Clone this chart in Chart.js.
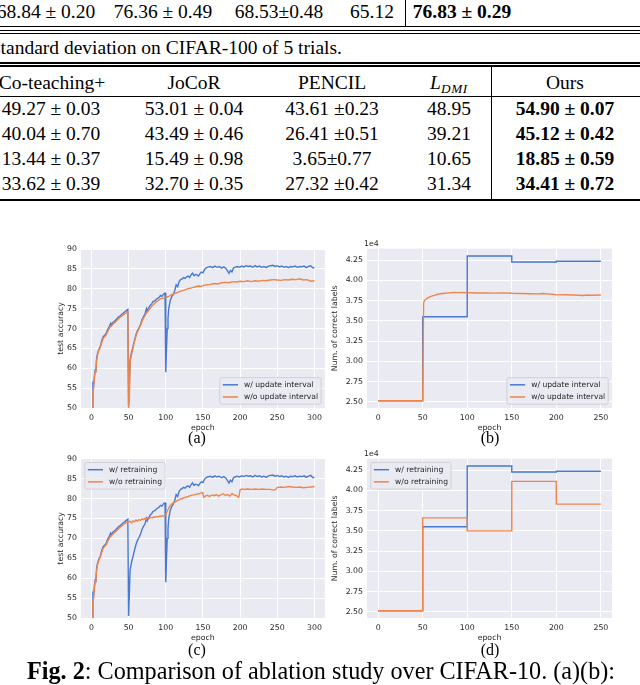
<!DOCTYPE html>
<html>
<head>
<meta charset="utf-8">
<script src="https://cdn.jsdelivr.net/npm/chart.js@4.4.1/dist/chart.umd.min.js"></script>
<style>
body { margin: 0; width: 640px; height: 685px; overflow: hidden; background: #fff; position: relative; font-family: 'Liberation Serif', 'Times New Roman', serif; color: #000; }
.t { position: absolute; font-size: 19.5px; white-space: nowrap; transform: translate(-50%, -50%); line-height: 1; }
.b { font-weight: bold; }
.cap { position: absolute; font-size: 16px; white-space: nowrap; transform: translate(-50%, -50%); line-height: 1; }
.rule { position: absolute; background: #000; }
canvas { position: absolute; }
</style>
</head>
<body>

<!-- end of the CIFAR-10 table -->
<div class="t" style="left:46px;top:12px">68.84 ± 0.20</div>
<div class="t" style="left:163px;top:12px">76.36 ± 0.49</div>
<div class="t" style="left:279px;top:12px">68.53±0.48</div>
<div class="t" style="left:372px;top:12px">65.12</div>
<div class="t b" style="left:462px;top:12px">76.83 ± 0.29</div>
<div class="rule" style="left:405px;top:0;width:1px;height:27px"></div>
<div class="rule" style="left:0;top:26px;width:640px;height:1px"></div>
<div class="rule" style="left:0;top:29.5px;width:640px;height:1.5px"></div>
<div class="rule" style="left:0;top:32.5px;width:640px;height:1.5px"></div>

<div class="t" style="left:-7px;top:48px;transform:translate(0,-50%)">standard deviation on CIFAR-100 of 5 trials.</div>

<!-- CIFAR-100 table -->
<div class="rule" style="left:0;top:62px;width:640px;height:1.5px"></div>
<div class="rule" style="left:0;top:65px;width:640px;height:1.5px"></div>
<div class="rule" style="left:491px;top:66px;width:1px;height:134px"></div>
<div class="t" style="left:52px;top:83px">Co-teaching+</div>
<div class="t" style="left:194px;top:83px">JoCoR</div>
<div class="t" style="left:332px;top:83px">PENCIL</div>
<div class="t" style="left:449px;top:83px"><i>L</i><i style="font-size:0.68em;position:relative;top:0.3em;letter-spacing:0.05em">DMI</i></div>
<div class="t" style="left:565px;top:83px">Ours</div>
<div class="rule" style="left:0;top:96px;width:640px;height:1px"></div>

<div class="t" style="left:51px;top:109px">49.27 ± 0.03</div>
<div class="t" style="left:194px;top:109px">53.01 ± 0.04</div>
<div class="t" style="left:332px;top:109px">43.61 ±0.23</div>
<div class="t" style="left:449px;top:109px">48.95</div>
<div class="t b" style="left:565px;top:109px">54.90 ± 0.07</div>

<div class="t" style="left:51px;top:134px">40.04 ± 0.70</div>
<div class="t" style="left:194px;top:134px">43.49 ± 0.46</div>
<div class="t" style="left:332px;top:134px">26.41 ±0.51</div>
<div class="t" style="left:449px;top:134px">39.21</div>
<div class="t b" style="left:565px;top:134px">45.12 ± 0.42</div>

<div class="t" style="left:51px;top:159px">13.44 ± 0.37</div>
<div class="t" style="left:194px;top:159px">15.49 ± 0.98</div>
<div class="t" style="left:332px;top:159px">3.65±0.77</div>
<div class="t" style="left:449px;top:159px">10.65</div>
<div class="t b" style="left:565px;top:159px">18.85 ± 0.59</div>

<div class="t" style="left:51px;top:184px">33.62 ± 0.39</div>
<div class="t" style="left:194px;top:184px">32.70 ± 0.35</div>
<div class="t" style="left:332px;top:184px">27.32 ±0.42</div>
<div class="t" style="left:449px;top:184px">31.34</div>
<div class="t b" style="left:565px;top:184px">34.41 ± 0.72</div>
<div class="rule" style="left:0;top:199px;width:640px;height:1.5px"></div>

<!-- figure -->
<canvas id="chartA" width="272" height="195" style="left:55px;top:240px"></canvas>
<canvas id="chartB" width="292" height="195" style="left:325px;top:240px"></canvas>
<canvas id="chartC" width="272" height="195" style="left:55px;top:450px"></canvas>
<canvas id="chartD" width="292" height="195" style="left:325px;top:450px"></canvas>

<div class="cap" style="left:197px;top:438px">(a)</div>
<div class="cap" style="left:490px;top:438px">(b)</div>
<div class="cap" style="left:197px;top:650px">(c)</div>
<div class="cap" style="left:490px;top:650px">(d)</div>
<div class="cap" style="left:27px;top:671px;font-size:24.2px;transform:translate(0,-50%)"><b>Fig. 2</b>: Comparison of ablation study over CIFAR-10. (a)(b):</div>

<script>
// test accuracy, with update interval / with retraining (same run in (a) and (c))
const epochsWith = [1,2,3,4,5,6,7,8,10,12,14,16,18,20,22,24,26,27,29,31,33,35,37,39,41,43,45,47,49,50,51,52,54,56,58,60,62,64,66,68,70,72,74,75,77,79,81,83,85,87,89,91,93,95,97,99,100,101,102,103,104,106,108,110,112,114,116,118,120,122,124,126,128,130,132,134,136,138,140,142,144,146,148,150,152,154,156,158,160,163,166,169,172,175,178,181,183,185,187,189,191,193,196,199,202,205,208,211,214,217,220,223,226,229,232,235,238,241,244,247,250,253,256,259,262,265,268,271,274,277,280,283,286,289,292,295,298,300];
const accWith = [50.2,56,55.5,58,59.5,59.3,62.5,63.5,64.8,65.5,67,68,68.3,68.8,69.8,70.5,71.3,70.8,71.6,71.8,72.2,72.6,73,73.2,73.6,73.9,74.2,74.5,74.8,50.5,56,62,64,65.5,67,68.5,69.5,70.2,71,72.2,73,73.6,75,74.4,75.2,75.8,76.2,76.8,76.9,77.3,77.6,77.8,78.3,78.1,78.7,78.9,59,65,70,72.5,75,77,78,78.5,79.5,81,80.5,81.8,82.3,82.5,82.8,82.6,83,83.2,82.8,83.5,83.9,83.3,83.6,83.5,83.2,83.8,84.2,84,84.8,85.2,85.4,85.5,85.6,85.3,85.7,85.4,85.6,85.2,85.5,85.1,84.5,83.9,84.6,84.2,85.2,85.4,85.6,85.4,85.7,85.5,85.8,85.6,85.7,85.4,85.8,85.5,85.7,85.4,85.6,85.3,85.7,85.8,85.9,85.6,85.8,85.5,85.7,85.4,85.6,85.3,85.6,85.5,85.7,85.4,85.6,85.5,85.7,85.3,85.6,85.8,85.2,85.3];

// test accuracy, w/o update interval (a)
const epochsNoUpdate = [1,2,3,4,5,6,7,8,10,12,14,16,18,20,22,24,26,28,30,32,34,36,38,40,42,44,46,48,49,50,51,52,54,56,58,60,62,64,66,68,70,72,74,76,78,80,82,84,86,88,90,92,94,96,98,100,104,108,112,116,120,124,128,132,136,140,144,148,152,156,160,165,170,175,180,185,190,195,200,205,210,215,220,225,230,235,240,245,250,255,260,265,270,275,280,285,290,295,300];
const accNoUpdate = [50,54,55.5,57.5,59.2,59.4,62,63.2,64.5,65.3,66.5,67.6,68,68.4,69.3,70,70.6,70.9,71.3,71.6,72,72.3,72.7,73,73.3,73.6,73.8,74.1,74.2,50,52,61.5,63.5,65.2,66.8,68.2,69.2,70,70.8,71.8,72.6,73.2,73.9,74.3,74.8,75.3,75.8,76.1,76.5,76.8,77.1,77.3,77.5,77.6,77.7,77.8,78.1,78.5,78.8,79.1,79.4,79.6,79.9,80.1,80.3,80.5,80.7,80.6,80.9,81,81.1,81.3,81.2,81.5,81.6,81.5,81.8,81.7,81.9,81.8,82,81.8,82,81.9,82.1,82,82.2,82.3,82.2,82.1,82.3,82.2,82.4,82.3,82.5,82.2,82.3,81.9,82];

// test accuracy, w/o retraining (c)
const epochsNoRetrain = [1,2,3,4,5,6,7,8,10,12,14,16,18,20,22,24,26,28,30,32,34,36,38,40,42,44,46,48,49,50,52,54,56,58,60,62,64,66,68,70,72,74,76,78,80,82,84,86,88,90,92,94,96,98,100,102,104,106,108,110,114,118,122,126,130,134,138,142,146,149,150,151,153,156,159,162,165,168,171,174,177,180,183,186,189,192,195,198,199,200,203,206,210,215,220,225,230,235,240,245,248,250,255,260,265,270,275,280,285,290,295,300];
const accNoRetrain = [50,54,55.5,57.5,59.2,59.4,62,63.2,64.5,65.3,66.5,67.6,68,68.4,69.3,70,70.6,70.9,71.3,71.6,72,72.3,72.7,73,73.3,73.6,73.8,74.1,74.2,74.2,74.3,73.9,74.4,74.2,74.6,74.3,74.7,74.5,74.9,74.7,75,74.8,75.2,75,75.3,75.1,75.4,75.3,75.5,75.4,75.6,75.5,75.7,75.6,75.9,76.8,77.6,78.2,78.6,78.9,79.3,79.7,80,80.3,80.5,80.8,80.9,81.1,81.3,81.5,81.2,80.3,80.6,80.8,80.5,80.9,80.7,81,80.6,80.9,81.2,80.8,81,80.6,81.2,80.9,80.7,80.3,81,82.2,82.4,82.3,82.4,82.3,82.4,82.3,82.4,82.3,82.3,82.1,82.3,82.8,82.9,82.8,83,82.9,82.8,82.9,82.7,82.8,82.9,83];

// number of correct labels, with update interval / with retraining (steps)
const epochsStepWith = [0,50,100,150,200,250];
const labelsWith = [25150,35500,43000,42250,42350,42350];

// number of correct labels, w/o update interval (b)
const epochsLabelsNoUpdate = [0,50,51,52,54,56,58,60,63,66,70,75,80,85,90,95,100,105,110,120,130,140,150,160,170,180,185,190,195,200,210,220,230,235,240,250];
const labelsNoUpdate = [25150,25150,37200,37500,37700,37850,37950,38050,38150,38250,38350,38400,38450,38500,38480,38500,38450,38470,38430,38450,38420,38450,38400,38380,38350,38320,38370,38330,38280,38200,38220,38180,38120,38180,38150,38180];

// number of correct labels, w/o retraining (d, steps)
const epochsStepNoRetrain = [0,50,100,150,200,250];
const labelsNoRetrain = [25150,36600,35000,41100,38300,38300];

const accTicks = [50,55,60,65,70,75,80,85,90];
const labelTicks = [25000,27500,30000,32500,35000,37500,40000,42500];
const epochTicks300 = [0,50,100,150,200,250,300];
const epochTicks250 = [0,50,100,150,200,250];

const BLUE = '#4878D0';
const ORANGE = '#EE854A';
const TEXT = '#262626';
const FS = 7.8;
const FONT = { family: 'DejaVu Sans', size: FS, lineHeight: 1.2 };

// seaborn style plot background
const plotBg = {
    id: 'plotBg',
    beforeDraw(chart) {
        const { ctx, chartArea: a } = chart;
        ctx.save();
        ctx.fillStyle = '#EAEAF2';
        ctx.fillRect(a.left, a.top, a.width, a.height);
        ctx.restore();
    }
};

// matplotlib like framed legend inside the axes
const boxLegend = {
    id: 'boxLegend',
    afterDatasetsDraw(chart, args, opts) {
        const { ctx, chartArea: a } = chart;
        const items = chart.data.datasets;
        const fs = 7.6;
        const pad = 0.4 * fs, handle = 2 * fs, hpad = 0.8 * fs, gap = 0.5 * fs, rowH = 1.1 * fs, inset = 0.5 * fs;
        ctx.save();
        ctx.font = `${fs}px "DejaVu Sans"`;
        const textW = Math.max(...items.map(d => ctx.measureText(d.label).width));
        const w = pad * 2 + handle + hpad + textW;
        const h = pad * 2 + rowH * items.length + gap * (items.length - 1);
        const x = opts.corner.includes('right') ? a.right - inset - w : a.left + inset;
        const y = opts.corner.includes('lower') ? a.bottom - inset - h : a.top + inset;
        ctx.beginPath();
        ctx.roundRect(x, y, w, h, 0.25 * fs);
        ctx.fillStyle = 'rgba(234,234,242,0.8)';
        ctx.fill();
        ctx.strokeStyle = 'rgba(204,204,204,0.8)';
        ctx.lineWidth = 1;
        ctx.stroke();
        items.forEach((d, i) => {
            const cy = y + pad + rowH / 2 + i * (rowH + gap);
            ctx.strokeStyle = d.borderColor;
            ctx.lineWidth = 1.5;
            ctx.beginPath();
            ctx.moveTo(x + pad, cy);
            ctx.lineTo(x + pad + handle, cy);
            ctx.stroke();
            ctx.fillStyle = TEXT;
            ctx.textBaseline = 'middle';
            ctx.fillText(d.label, x + pad + handle + hpad, cy);
        });
        ctx.restore();
    }
};

// the "1e4" offset label above the y axis
const offsetText = {
    id: 'offsetText',
    afterDraw(chart, args, opts) {
        if (!opts.text) return;
        const { ctx, chartArea: a } = chart;
        ctx.save();
        ctx.font = `${FS}px "DejaVu Sans"`;
        ctx.fillStyle = TEXT;
        ctx.textBaseline = 'bottom';
        ctx.fillText(opts.text, a.left - 3, a.top - 1);
        ctx.restore();
    }
};

const makeChart = (id, cfg) => {
    new Chart(document.getElementById(id), {
        type: 'line',
        data: {
            datasets: cfg.series.map(s => ({
                label: s.label,
                data: s.x.map((x, i) => ({ x: x, y: s.y[i] })),
                borderColor: s.color,
                backgroundColor: s.color,
                borderWidth: 1.4,
                pointRadius: 0,
                tension: 0,
                stepped: s.stepped || false,
                order: s.order
            }))
        },
        options: {
            responsive: false,
            animation: false,
            devicePixelRatio: 1,
            layout: { padding: { top: cfg.padTop, right: cfg.padRight, left: 0, bottom: 0 } },
            plugins: {
                legend: { display: false },
                tooltip: { enabled: false },
                boxLegend: { corner: cfg.legendCorner },
                offsetText: { text: cfg.offset }
            },
            scales: {
                x: {
                    type: 'linear',
                    min: cfg.xMin,
                    max: cfg.xMax,
                    afterBuildTicks: s => { s.ticks = cfg.xTicks.map(v => ({ value: v })); },
                    afterFit: s => { s.height = 27; },
                    grid: { color: '#ffffff', lineWidth: 1, drawTicks: false },
                    border: { display: false },
                    ticks: { color: TEXT, font: FONT, padding: 5, maxRotation: 0, autoSkip: false },
                    title: { display: true, text: 'epoch', color: TEXT, font: FONT, padding: { top: 0, bottom: 2 } }
                },
                y: {
                    type: 'linear',
                    min: cfg.yMin,
                    max: cfg.yMax,
                    afterBuildTicks: s => { s.ticks = cfg.yTicks.map(v => ({ value: v })); },
                    afterFit: s => { s.width = cfg.yAxisW; },
                    grid: { color: '#ffffff', lineWidth: 1, drawTicks: false },
                    border: { display: false },
                    ticks: { color: TEXT, font: FONT, padding: 4, autoSkip: false, callback: cfg.yFormat },
                    title: { display: true, text: cfg.yTitle, color: TEXT, font: FONT, padding: { top: cfg.yTitlePad, bottom: 0 } }
                }
            }
        },
        plugins: [plotBg, boxLegend, offsetText]
    });
};

const accAxes = {
    xMin: -14, xMax: 314, xTicks: epochTicks300,
    yMin: 50, yMax: 90, yTicks: accTicks, yFormat: v => v,
    yTitle: 'test accuracy', yAxisW: 26, yTitlePad: 1.5, padTop: 9, padRight: 2
};
const labelAxes = {
    xMin: -12.5, xMax: 262.5, xTicks: epochTicks250,
    yMin: 24250, yMax: 43900, yTicks: labelTicks, yFormat: v => (v / 10000).toFixed(2),
    yTitle: 'Num. of correct labels', yAxisW: 42, yTitlePad: 5, padTop: 8, padRight: 5, offset: '1e4'
};

makeChart('chartA', Object.assign({}, accAxes, {
    legendCorner: 'lower right',
    series: [
        { label: 'w/ update interval', x: epochsWith, y: accWith, color: BLUE, order: 2 },
        { label: 'w/o update interval', x: epochsNoUpdate, y: accNoUpdate, color: ORANGE, order: 1 }
    ]
}));

makeChart('chartB', Object.assign({}, labelAxes, {
    legendCorner: 'lower right',
    series: [
        { label: 'w/ update interval', x: epochsStepWith, y: labelsWith, color: BLUE, order: 2, stepped: 'before' },
        { label: 'w/o update interval', x: epochsLabelsNoUpdate, y: labelsNoUpdate, color: ORANGE, order: 1 }
    ]
}));

makeChart('chartC', Object.assign({}, accAxes, {
    legendCorner: 'upper left', padTop: 8.5,
    series: [
        { label: 'w/ retraining', x: epochsWith, y: accWith, color: BLUE, order: 2 },
        { label: 'w/o retraining', x: epochsNoRetrain, y: accNoRetrain, color: ORANGE, order: 1 }
    ]
}));

makeChart('chartD', Object.assign({}, labelAxes, {
    legendCorner: 'upper left', padTop: 7,
    series: [
        { label: 'w/ retraining', x: epochsStepWith, y: labelsWith, color: BLUE, order: 2, stepped: 'before' },
        { label: 'w/o retraining', x: epochsStepNoRetrain, y: labelsNoRetrain, color: ORANGE, order: 1, stepped: 'before' }
    ]
}));
</script>
</body>
</html>
